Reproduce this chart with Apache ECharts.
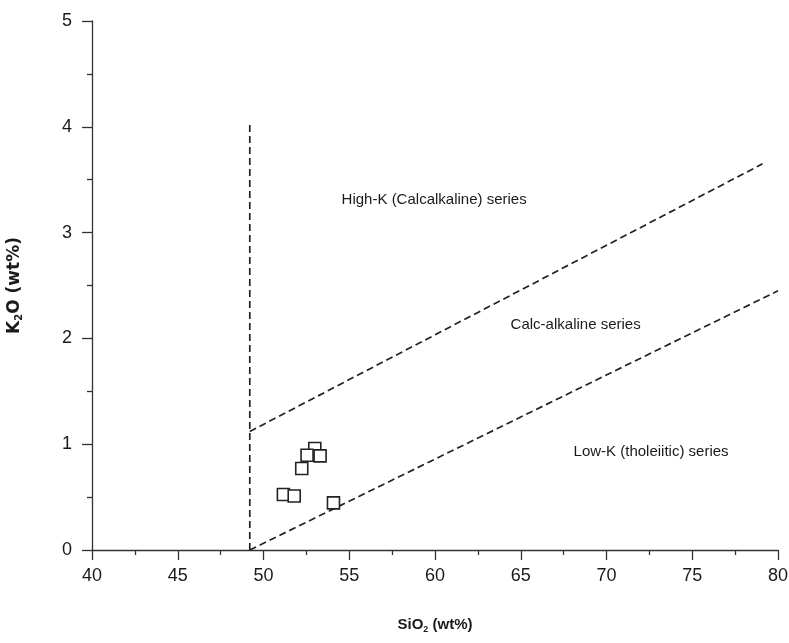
<!DOCTYPE html>
<html>
<head>
<meta charset="utf-8">
<script src="https://cdn.jsdelivr.net/npm/echarts@6/dist/echarts.min.js"></script>
<style>html,body{margin:0;padding:0;background:#fff}#c{width:789px;height:643px}</style>
</head>
<body>
<div id="c"></div>
<script>
// Sample data (SiO2 wt%, K2O wt%)
var sampleSiO2 = [52.99, 52.54, 53.30, 52.23, 51.16, 51.79, 54.08];
var sampleK2O  = [0.96, 0.895, 0.89, 0.77, 0.525, 0.51, 0.445];

// Boundary lines
var verticalLineX = [49.2, 49.2];
var verticalLineY = [0, 4.05];
var upperLineX = [49.2, 79.1];
var upperLineY = [1.12, 3.65];
var lowerLineX = [49.2, 80];
var lowerLineY = [0, 2.45];

// Field labels
var fieldNames = ['High-K (Calcalkaline) series', 'Calc-alkaline series', 'Low-K (tholeiitic) series'];
var fieldX = [59.95, 68.2, 72.6];
var fieldY = [3.31, 2.13, 0.93];

function zip(a, b) { return a.map(function (v, i) { return [v, b[i]]; }); }

var SANS = '"Liberation Sans", Arial, sans-serif';
var WIDE = '"DejaVu Sans", sans-serif';
var dashed = { color: '#222', width: 1.7, type: [7, 4] };

var chart = echarts.init(document.getElementById('c'));
chart.setOption({
  animation: false,
  backgroundColor: '#fff',
  grid: { left: 92, right: 11, top: 21, bottom: 93, containLabel: false, outerBoundsMode: 'none' },
  xAxis: {
    type: 'value', min: 40, max: 80, interval: 5,
    name: '{b|SiO}{s|2}{b| (wt%)}', nameLocation: 'middle', nameGap: 66,
    nameTextStyle: { rich: {
      b: { fontFamily: SANS, fontWeight: 'bold', fontSize: 15, color: '#1a1a1a' },
      s: { fontFamily: SANS, fontWeight: 'bold', fontSize: 9, color: '#1a1a1a', padding: [9, 0, 0, 0] }
    } },
    axisLine: { show: true, lineStyle: { color: '#333', width: 1.3 } },
    axisTick: { show: true, length: 10, inside: false, lineStyle: { color: '#333', width: 1.3 } },
    minorTick: { show: true, splitNumber: 2, length: 5, lineStyle: { color: '#333', width: 1.3 } },
    splitLine: { show: false },
    axisLabel: { fontFamily: SANS, fontSize: 18, color: '#1a1a1a', margin: 17 }
  },
  yAxis: {
    type: 'value', min: 0, max: 5, interval: 1,
    name: '{b|K}{s|2}{b|O (wt%)}', nameLocation: 'middle', nameGap: 68, nameRotate: 90,
    nameTextStyle: { rich: {
      b: { fontFamily: WIDE, fontWeight: 'bold', fontSize: 17, color: '#1a1a1a' },
      s: { fontFamily: WIDE, fontWeight: 'bold', fontSize: 10, color: '#1a1a1a', padding: [9, 0, 0, 0] }
    } },
    axisLine: { show: true, lineStyle: { color: '#333', width: 1.3 } },
    axisTick: { show: true, length: 10, lineStyle: { color: '#333', width: 1.3 } },
    minorTick: { show: true, splitNumber: 2, length: 5, lineStyle: { color: '#333', width: 1.3 } },
    splitLine: { show: false },
    axisLabel: { fontFamily: SANS, fontSize: 18, color: '#1a1a1a', margin: 20 }
  },
  series: [
    { type: 'line', data: zip(verticalLineX, verticalLineY), symbol: 'none', lineStyle: dashed, silent: true },
    { type: 'line', data: zip(upperLineX, upperLineY), symbol: 'none', lineStyle: dashed, silent: true },
    { type: 'line', data: zip(lowerLineX, lowerLineY), symbol: 'none', lineStyle: dashed, silent: true },
    {
      type: 'scatter', data: zip(sampleSiO2, sampleK2O), symbol: 'rect', symbolSize: 12,
      itemStyle: { color: '#fff', borderColor: '#222', borderWidth: 1.6, opacity: 1 }, z: 5
    },
    {
      type: 'scatter', symbolSize: 0, silent: true,
      itemStyle: { opacity: 1 },
      data: fieldNames.map(function (n, i) { return { value: [fieldX[i], fieldY[i]], name: n }; }),
      label: { show: true, position: 'inside', formatter: function (p) { return p.name; },
        fontFamily: SANS, fontSize: 15, color: '#1a1a1a' }
    }
  ]
});
</script>
</body>
</html>
